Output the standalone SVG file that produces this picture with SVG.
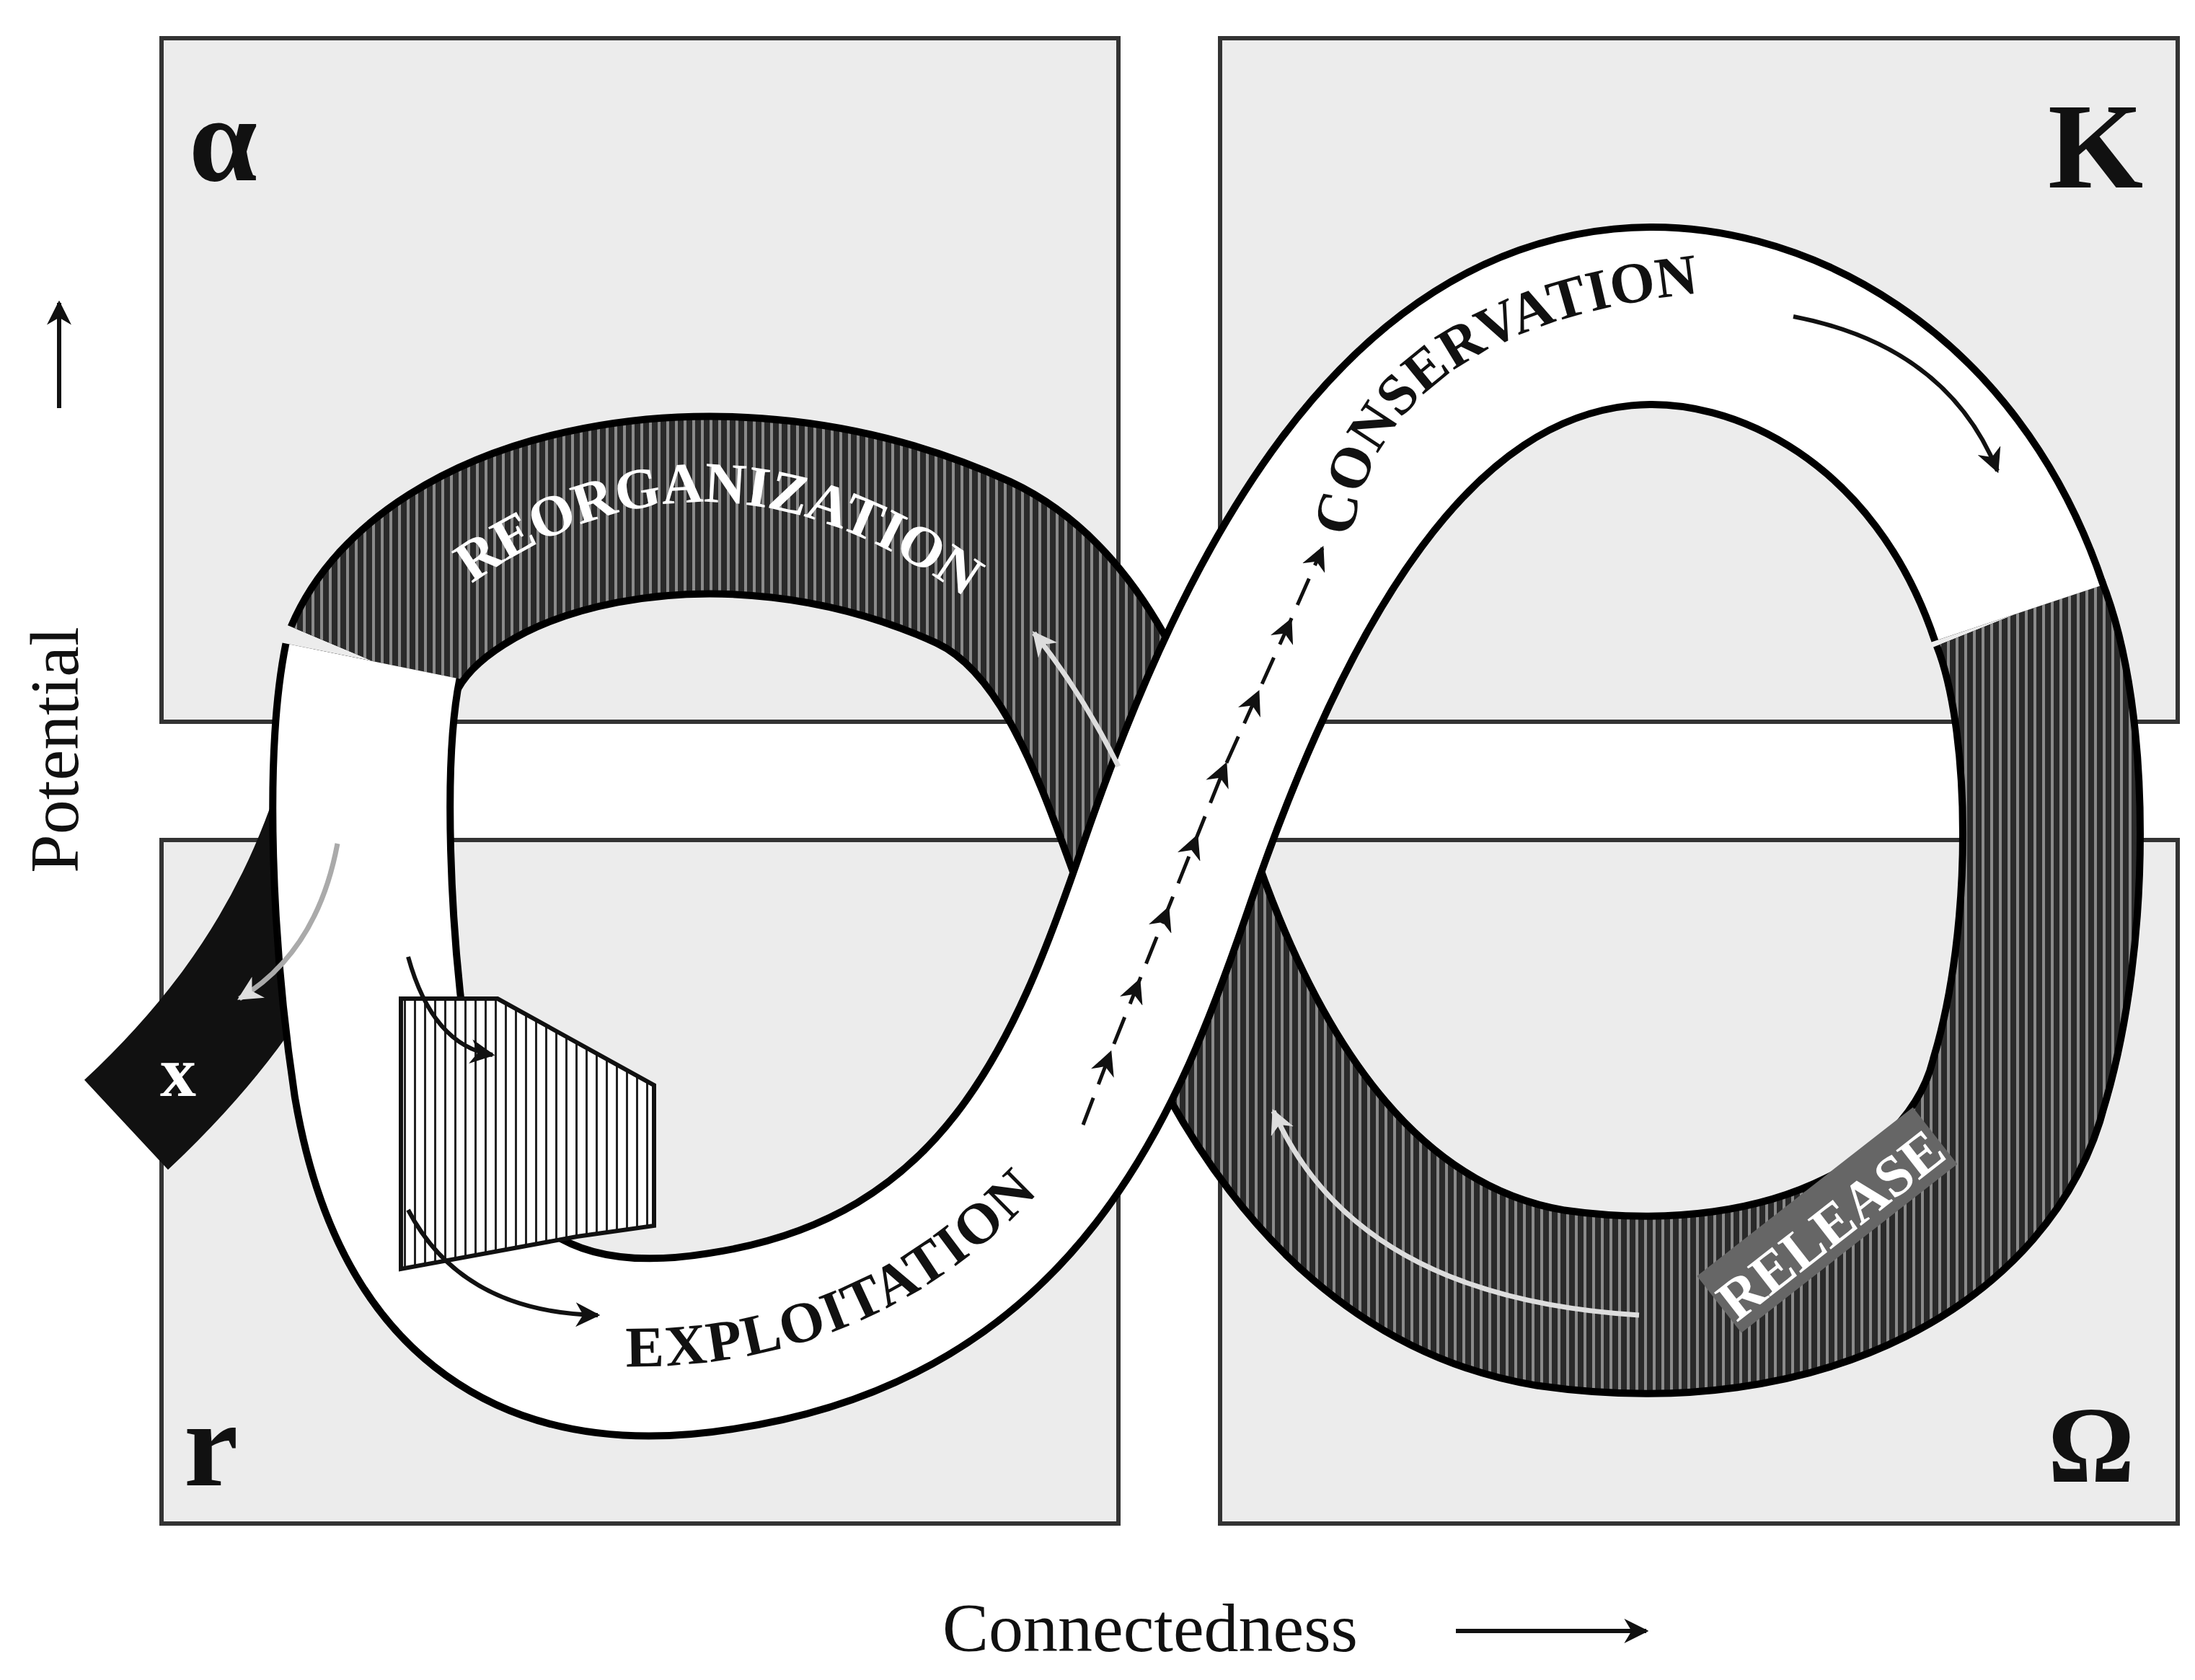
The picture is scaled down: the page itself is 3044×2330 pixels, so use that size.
<svg xmlns="http://www.w3.org/2000/svg" width="3044" height="2330" viewBox="0 0 3044 2330">
<style>
.box{fill:#ececec;stroke:#333;stroke-width:6}
.big{font-family:"Liberation Serif",serif;font-weight:bold;fill:#111}
.lab{font-family:"Liberation Serif",serif;font-weight:bold;font-size:80px}
.axis{font-family:"Liberation Serif",serif;font-size:96px;fill:#111}
</style>
<defs>
<pattern id="hatch" patternUnits="userSpaceOnUse" width="12" height="12">
<rect width="12" height="12" fill="#2a2a2a"/><rect x="0" width="4" height="12" fill="#8a8a8a"/>
</pattern>
<pattern id="lhatch" patternUnits="userSpaceOnUse" width="14" height="14">
<rect width="14" height="14" fill="#fff"/><rect x="0" width="3" height="14" fill="#222"/>
</pattern>
<marker id="bh" viewBox="0 0 10 10" refX="9" refY="5" markerWidth="34" markerHeight="34" orient="auto" markerUnits="userSpaceOnUse"><path d="M0,0 L10,5 L0,10 L3,5 z" fill="#111"/></marker>
<marker id="wh" viewBox="0 0 10 10" refX="9" refY="5" markerWidth="34" markerHeight="34" orient="auto" markerUnits="userSpaceOnUse"><path d="M0,0 L10,5 L0,10 L3,5 z" fill="#ddd"/></marker>
<path id="pReo" d="M 654 810 Q 1000 560 1380 860"/>
<path id="pCon" d="M 1875 745 C 1900 560 2050 420 2440 400"/>
<path id="pExp" d="M 868 1895 Q 1250 1900 1495 1590"/>
</defs>
<g id="boxes">
<rect class="box" x="224" y="53" width="1327" height="948"/>
<rect class="box" x="1692" y="53" width="1328" height="948"/>
<rect class="box" x="224" y="1165" width="1327" height="948"/>
<rect class="box" x="1692" y="1165" width="1328" height="948"/>
</g>
<g id="corner-labels">
<text class="big" x="262" y="250" font-size="170" font-weight="normal">α</text>
<text class="big" x="2840" y="260" font-size="170">K</text>
<text class="big" x="255" y="2060" font-size="170">r</text>
<text class="big" x="2840" y="2055" font-size="150" font-weight="normal">Ω</text>
</g>
<g id="band">
<path d="M 517 917 C 470 1150 400 1350 175 1560" fill="none" stroke="#111" stroke-width="170"/>
<path d="M 517 917 C 600 720 1000 620 1350 780 C 1500 850 1560 1050 1619 1209 C 1700 1450 1850 1750 2150 1800 C 2500 1850 2750 1700 2800 1500 C 2860 1300 2860 1000 2800 850" fill="none" stroke="#000" stroke-width="256"/>
<path d="M 517 917 C 600 720 1000 620 1350 780 C 1500 850 1560 1050 1619 1209 C 1700 1450 1850 1750 2150 1800 C 2500 1850 2750 1700 2800 1500 C 2860 1300 2860 1000 2800 850" fill="none" stroke="url(#hatch)" stroke-width="236"/>
<path d="M 2800 850 C 2700 550 2450 420 2250 440 C 1950 470 1760 800 1619 1209 C 1520 1500 1400 1800 1000 1860 C 750 1900 580 1800 530 1500 C 500 1300 490 1050 517 917" fill="none" stroke="#000" stroke-width="256"/>
<path d="M 2800 850 C 2700 550 2450 420 2250 440 C 1950 470 1760 800 1619 1209 C 1520 1500 1400 1800 1000 1860 C 750 1900 580 1800 530 1500 C 500 1300 490 1050 517 917" fill="none" stroke="#fff" stroke-width="236"/>
<polygon points="556,1385 690,1385 907,1505 907,1700 800,1715 556,1760" fill="url(#lhatch)" stroke="#111" stroke-width="6"/>
<text x="222" y="1520" class="big" font-size="100" style="fill:#fff">x</text>
</g>
<g id="labels">
<text class="lab" fill="#fff"><textPath href="#pReo" textLength="740">REORGANIZATION</textPath></text>
<text class="lab" fill="#111"><textPath href="#pCon" textLength="640">CONSERVATION</textPath></text>
<text class="lab" fill="#111"><textPath href="#pExp" textLength="640">EXPLOITATION</textPath></text>
<g transform="translate(2540,1700) rotate(-38)">
<rect x="-190" y="-60" width="380" height="100" fill="#666"/>
<text class="lab" x="0" y="25" text-anchor="middle" fill="#fff">RELEASE</text>
</g>
</g>
<g id="connectors" fill="none">
<polyline points="1502,1560 1540,1460 1580,1360 1620,1260 1660,1160 1700,1060 1745,960 1790,860 1834,760" stroke="#111" stroke-width="5" stroke-dasharray="40 20" marker-mid="url(#bh)" marker-end="url(#bh)"/>
<path d="M 2487 439 Q 2700 480 2770 653" stroke="#111" stroke-width="6" marker-end="url(#bh)"/>
<path d="M 566 1327 Q 600 1450 683 1463" stroke="#111" stroke-width="6" marker-end="url(#bh)"/>
<path d="M 566 1678 Q 640 1820 829 1824" stroke="#111" stroke-width="6" marker-end="url(#bh)"/>
<path d="M 1551 1063 Q 1500 960 1434 878" stroke="#ddd" stroke-width="7" marker-end="url(#wh)"/>
<path d="M 2273 1824 Q 1880 1800 1766 1541" stroke="#ddd" stroke-width="7" marker-end="url(#wh)"/>
<path d="M 468 1170 Q 440 1320 332 1385" stroke="#aaa" stroke-width="7" marker-end="url(#wh)"/>
</g>
<g id="axes">
<text class="axis" transform="translate(108,1040) rotate(-90)" text-anchor="middle">Potential</text>
<line x1="82" y1="566" x2="82" y2="420" stroke="#111" stroke-width="6" marker-end="url(#bh)"/>
<text class="axis" x="1595" y="2290" text-anchor="middle">Connectedness</text>
<line x1="2019" y1="2262" x2="2283" y2="2262" stroke="#111" stroke-width="6" marker-end="url(#bh)"/>
</g>
</svg>
